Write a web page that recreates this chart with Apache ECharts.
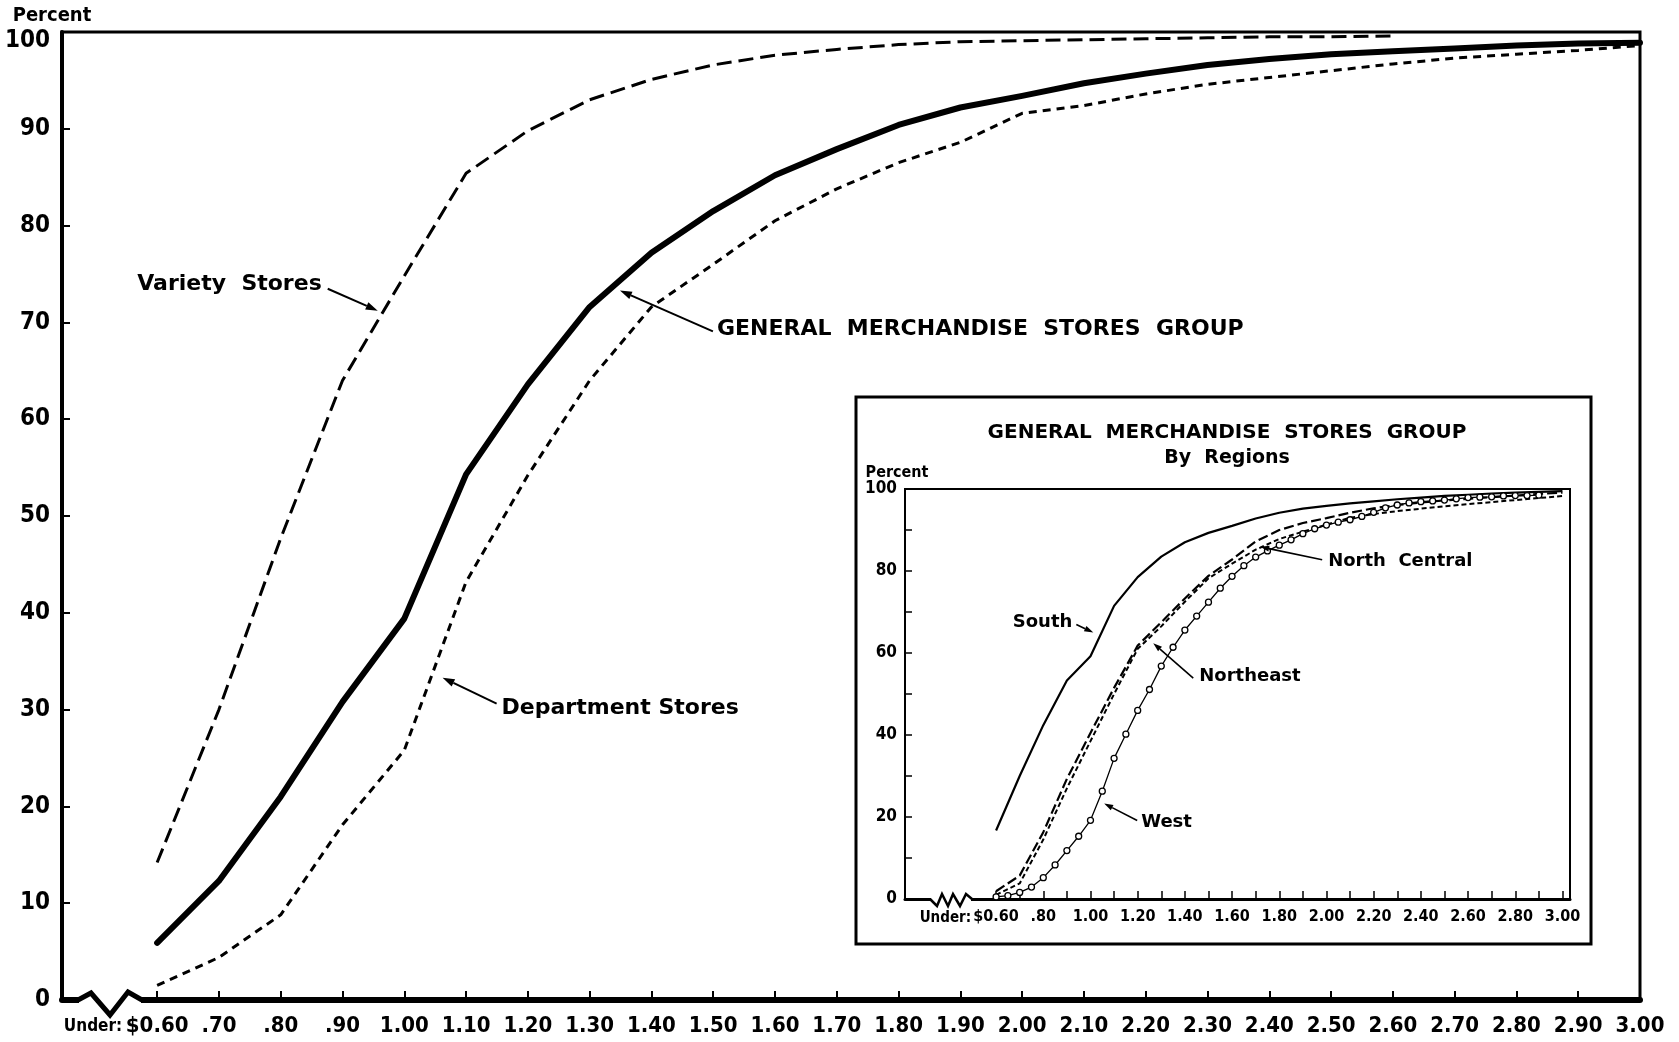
<!DOCTYPE html>
<html>
<head>
<meta charset="utf-8">
<script src="https://cdn.jsdelivr.net/npm/echarts@6.0.0/dist/echarts.min.js"></script>
<style>
  html, body { margin: 0; padding: 0; background: #fff; }
  #chart { width: 1679px; height: 1042px; }
</style>
</head>
<body>
<div id="chart"></div>
<script>
// price classes (dollars), cumulative percent of stores paying under each rate
const prices = [0.60, 0.70, 0.80, 0.90, 1.00, 1.10, 1.20, 1.30, 1.40, 1.50, 1.60, 1.70, 1.80,
                1.90, 2.00, 2.10, 2.20, 2.30, 2.40, 2.50, 2.60, 2.70, 2.80, 2.90, 3.00];

// main chart -- variety stores stop at 2.60
const varietyStores = [14.2, 30.0, 47.7, 64.0, 74.8, 85.4, 89.8, 93.0, 95.1, 96.6, 97.6, 98.2, 98.7,
                       99.0, 99.1, 99.2, 99.3, 99.4, 99.5, 99.5, 99.6];
const generalMerchandise = [5.9, 12.3, 21.0, 30.8, 39.4, 54.3, 63.6, 71.6, 77.2, 81.5, 85.2, 87.9, 90.4,
                            92.2, 93.4, 94.7, 95.7, 96.6, 97.2, 97.7, 98.0, 98.3, 98.6, 98.8, 98.9];
const departmentStores = [1.5, 4.4, 8.8, 18.1, 25.8, 43.2, 54.2, 64.0, 71.6, 76.0, 80.5, 83.8, 86.5,
                          88.6, 91.6, 92.4, 93.6, 94.6, 95.3, 96.0, 96.7, 97.3, 97.7, 98.1, 98.6];

// inset: general merchandise group by regions
const south = [16.7, 30.0, 42.4, 53.3, 59.2, 71.5, 78.5, 83.5, 87.0, 89.3, 91.0, 92.8, 94.2,
               95.2, 95.9, 96.5, 97.0, 97.5, 97.9, 98.3, 98.6, 98.9, 99.1, 99.3, 99.5];
const northCentral = [1.9, 5.7, 16.3, 29.3, 40.5, 51.5, 61.8, 67.5, 73.3, 78.8, 82.8, 87.2, 90.0,
                      91.7, 92.9, 94.2, 95.3, 96.1, 96.7, 97.2, 97.6, 98.0, 98.4, 98.8, 99.1];
const northeast = [1.0, 3.8, 14.5, 27.0, 38.5, 50.0, 61.0, 66.5, 72.5, 78.2, 81.8, 85.2, 87.8,
                   89.6, 91.3, 93.0, 93.9, 94.6, 95.2, 95.8, 96.3, 96.8, 97.3, 97.8, 98.3];
const westPrices = [0.60, 0.65, 0.70, 0.75, 0.80, 0.85, 0.90, 0.95, 1.00, 1.05, 1.10, 1.15, 1.20, 1.25,
                    1.30, 1.35, 1.40, 1.45, 1.50, 1.55, 1.60, 1.65, 1.70, 1.75, 1.80, 1.85, 1.90, 1.95,
                    2.00, 2.05, 2.10, 2.15, 2.20, 2.25, 2.30, 2.35, 2.40, 2.45, 2.50, 2.55, 2.60, 2.65,
                    2.70, 2.75, 2.80, 2.85, 2.90];
const west = [0.5, 0.8, 1.6, 2.9, 5.2, 8.3, 11.8, 15.3, 19.2, 26.3, 34.3, 40.2, 46.0, 51.1,
              56.8, 61.4, 65.6, 69.0, 72.4, 75.8, 78.7, 81.3, 83.4, 84.9, 86.3, 87.6, 89.1, 90.3,
              91.2, 91.9, 92.5, 93.3, 94.3, 95.4, 96.1, 96.6, 96.9, 97.1, 97.3, 97.6, 97.9, 98.0,
              98.1, 98.3, 98.4, 98.4, 98.5];

const insetLabelPrices = [0.60, 0.80, 1.00, 1.20, 1.40, 1.60, 1.80, 2.00, 2.20, 2.40, 2.60, 2.80, 3.00];

const COND = "'DejaVu Sans Condensed', 'Liberation Sans Narrow', sans-serif";
const BOLD = "'DejaVu Sans', sans-serif";

function pairs(xs, ys) {
    return ys.map(function (v, i) { return [xs[i], v]; });
}

function priceLabel(v) {
    if (Math.abs(v - 0.6) < 1e-6) return '$0.60';
    let s = v.toFixed(2);
    return v < 1 ? s.slice(1) : s;
}

let chart = echarts.init(document.getElementById('chart'));

let option = {
    animation: false,
    backgroundColor: '#fff',
    grid: [
        { left: 62, right: 39, top: 32, bottom: 42, show: true, borderColor: '#000', borderWidth: 3 },
        { left: 905, right: 109, top: 489, bottom: 143, show: true, borderColor: '#000', borderWidth: 2 }
    ],
    xAxis: [{
        type: 'value', gridIndex: 0, min: 0.446, max: 3.0,
        axisLine: { lineStyle: { color: '#000', width: 6 } },
        axisTick: { customValues: prices, inside: true, length: 9, lineStyle: { color: '#000', width: 2 } },
        axisLabel: {
            customValues: prices, formatter: priceLabel, margin: 15, color: '#000',
            showMinLabel: true, showMaxLabel: true, hideOverlap: false,
            fontFamily: COND, fontWeight: 'bold', fontSize: 22
        },
        splitLine: { show: false }
    }, {
        type: 'value', gridIndex: 1, min: 0.214, max: 3.032,
        axisLine: { lineStyle: { color: '#000', width: 3 } },
        axisTick: { customValues: prices, inside: true, length: 8, lineStyle: { color: '#000', width: 1.5 } },
        axisLabel: {
            customValues: insetLabelPrices, formatter: priceLabel, margin: 10, color: '#000',
            showMinLabel: true, showMaxLabel: true, hideOverlap: false,
            fontFamily: COND, fontWeight: 'bold', fontSize: 16
        },
        splitLine: { show: false }
    }],
    yAxis: [{
        type: 'value', gridIndex: 0, min: 0, max: 100, interval: 10,
        name: 'Percent', nameLocation: 'end', nameGap: 6,
        nameTextStyle: { color: '#000', fontFamily: COND, fontWeight: 'bold', fontSize: 20, align: 'center', padding: [0, 20, 0, 0] },
        axisLine: { show: true, lineStyle: { color: '#000', width: 4 } },
        axisTick: { show: true, inside: true, length: 8, lineStyle: { color: '#000', width: 2 } },
        axisLabel: {
            color: '#000', fontFamily: COND, fontWeight: 'bold', fontSize: 24, margin: 12,
            formatter: function (v) { return v === 100 ? '{t|100}' : String(v); },
            rich: { t: { color: '#000', fontFamily: COND, fontWeight: 'bold', fontSize: 24, padding: [18, 0, 0, 0] } }
        },
        splitLine: { show: false }
    }, {
        type: 'value', gridIndex: 1, min: 0, max: 100, interval: 10,
        name: 'Percent', nameLocation: 'end', nameGap: 7,
        nameTextStyle: { color: '#000', fontFamily: COND, fontWeight: 'bold', fontSize: 16, align: 'center', padding: [0, 16, 0, 0] },
        axisLine: { show: true, lineStyle: { color: '#000', width: 2 } },
        axisTick: { show: true, inside: true, length: 7, lineStyle: { color: '#000', width: 1.5 } },
        axisLabel: {
            color: '#000', fontFamily: COND, fontWeight: 'bold', fontSize: 17, margin: 8,
            formatter: function (v) { return v % 20 === 0 ? String(v) : ''; }
        },
        splitLine: { show: false }
    }],
    series: [
        { name: 'Variety Stores', type: 'line', xAxisIndex: 0, yAxisIndex: 0, data: pairs(prices, varietyStores),
          symbol: 'none', lineStyle: { color: '#000', width: 3, type: [15, 7] } },
        { name: 'General Merchandise Stores Group', type: 'line', xAxisIndex: 0, yAxisIndex: 0, data: pairs(prices, generalMerchandise),
          symbol: 'none', lineStyle: { color: '#000', width: 6, cap: 'round', join: 'round' } },
        { name: 'Department Stores', type: 'line', xAxisIndex: 0, yAxisIndex: 0, data: pairs(prices, departmentStores),
          symbol: 'none', lineStyle: { color: '#000', width: 3, type: [8, 6] } },

        { name: 'South', type: 'line', xAxisIndex: 1, yAxisIndex: 1, data: pairs(prices, south),
          symbol: 'none', lineStyle: { color: '#000', width: 2.2 } },
        { name: 'North Central', type: 'line', xAxisIndex: 1, yAxisIndex: 1, data: pairs(prices, northCentral),
          symbol: 'none', lineStyle: { color: '#000', width: 2.2, type: [10, 4] } },
        { name: 'Northeast', type: 'line', xAxisIndex: 1, yAxisIndex: 1, data: pairs(prices, northeast),
          symbol: 'none', lineStyle: { color: '#000', width: 2, type: [5, 3] } },
        { name: 'West', type: 'line', xAxisIndex: 1, yAxisIndex: 1, data: pairs(westPrices, west),
          symbol: 'circle', symbolSize: 6, showSymbol: true, showAllSymbol: true,
          itemStyle: { color: '#fff', borderColor: '#000', borderWidth: 1.3 },
          lineStyle: { color: '#000', width: 1.3 } }
    ]
};
chart.setOption(option);

// annotation layout: arrow tip in data units, tail offset and label offset in pixels
const mainNotes = [
    { grid: 0, text: 'Variety  Stores', tip: [0.957, 71.2], tail: [-50, -22], dx: -6, dy: -5, align: 'right', size: 22, head: 12 },
    { grid: 0, text: 'GENERAL  MERCHANDISE  STORES  GROUP', tip: [1.349, 73.3], tail: [93, 41], dx: 4, dy: -2, align: 'left', size: 22, head: 12 },
    { grid: 0, text: 'Department Stores', tip: [1.062, 33.3], tail: [54, 26], dx: 5, dy: 5, align: 'left', size: 22, head: 12 },
    { grid: 1, text: 'South', tip: [1.012, 65.0], tail: [-17, -8], dx: -4, dy: -2, align: 'right', size: 18, head: 9 },
    { grid: 1, text: 'Northeast', tip: [1.266, 62.4], tail: [40, 35], dx: 6, dy: -2, align: 'left', size: 18, head: 9 },
    { grid: 1, text: 'North  Central', tip: [1.719, 85.9], tail: [62, 13], dx: 6, dy: 2, align: 'left', size: 18, head: 9 },
    { grid: 1, text: 'West', tip: [1.058, 23.3], tail: [33, 17], dx: 4, dy: 2, align: 'left', size: 18, head: 9 }
];

function arrow(tail, tip, head, width) {
    let vx = tip[0] - tail[0], vy = tip[1] - tail[1];
    let len = Math.sqrt(vx * vx + vy * vy);
    let ux = vx / len, uy = vy / len;
    let bx = tip[0] - ux * head, by = tip[1] - uy * head;
    let hw = head * 0.33;
    return [
        { type: 'line', z: 100, shape: { x1: tail[0], y1: tail[1], x2: bx, y2: by },
          style: { stroke: '#000', lineWidth: width } },
        { type: 'polygon', z: 100, shape: { points: [tip, [bx - uy * hw, by + ux * hw], [bx + uy * hw, by - ux * hw]] },
          style: { fill: '#000' } }
    ];
}

let graphics = [];

// inset frame and heading
graphics.push({ type: 'rect', z: 100, shape: { x: 856, y: 397, width: 735, height: 547 },
                style: { fill: null, stroke: '#000', lineWidth: 3 } });
graphics.push({ type: 'text', z: 100, x: 1227, y: 433,
                style: { text: 'GENERAL  MERCHANDISE  STORES  GROUP', fill: '#000', fontFamily: BOLD, fontWeight: 'bold',
                         fontSize: 20, align: 'center', verticalAlign: 'middle' } });
graphics.push({ type: 'text', z: 100, x: 1227, y: 458,
                style: { text: 'By  Regions', fill: '#000', fontFamily: BOLD, fontWeight: 'bold',
                         fontSize: 19, align: 'center', verticalAlign: 'middle' } });

// "Under:" prefix ahead of the first price label on each axis
let u0 = chart.convertToPixel({ gridIndex: 0 }, [0.6, 0]);
graphics.push({ type: 'text', z: 100, x: u0[0] - 35, y: u0[1] + 27,
                style: { text: 'Under:', fill: '#000', fontFamily: COND, fontWeight: 'bold', fontSize: 17,
                         align: 'right', verticalAlign: 'middle' } });
let u1 = chart.convertToPixel({ gridIndex: 1 }, [0.6, 0]);
graphics.push({ type: 'text', z: 100, x: u1[0] - 25, y: u1[1] + 19,
                style: { text: 'Under:', fill: '#000', fontFamily: COND, fontWeight: 'bold', fontSize: 15,
                         align: 'right', verticalAlign: 'middle' } });

// axis break marks
let o0 = chart.convertToPixel({ gridIndex: 0 }, [0.446, 0]);
graphics.push({ type: 'rect', z: 100, shape: { x: o0[0] + 17, y: o0[1] - 5, width: 62, height: 10 }, style: { fill: '#fff' } });
graphics.push({ type: 'polyline', z: 101, shape: { points: [
    [o0[0] + 16, o0[1]], [o0[0] + 29, o0[1] - 7], [o0[0] + 48, o0[1] + 15], [o0[0] + 66, o0[1] - 8], [o0[0] + 80, o0[1]]
] }, style: { stroke: '#000', lineWidth: 5, fill: null } });

let o1 = chart.convertToPixel({ gridIndex: 1 }, [0.214, 0]);
graphics.push({ type: 'rect', z: 100, shape: { x: o1[0] + 26, y: o1[1] - 3, width: 40, height: 6 }, style: { fill: '#fff' } });
graphics.push({ type: 'polyline', z: 101, shape: { points: [
    [o1[0] + 25, o1[1]], [o1[0] + 32, o1[1] + 7], [o1[0] + 37, o1[1] - 5], [o1[0] + 43, o1[1] + 7],
    [o1[0] + 48, o1[1] - 5], [o1[0] + 55, o1[1] + 7], [o1[0] + 61, o1[1] - 5], [o1[0] + 67, o1[1]]
] }, style: { stroke: '#000', lineWidth: 2.5, fill: null } });

// labels with arrows
mainNotes.forEach(function (n) {
    let tip = chart.convertToPixel({ gridIndex: n.grid }, n.tip);
    let tail = [tip[0] + n.tail[0], tip[1] + n.tail[1]];
    graphics = graphics.concat(arrow(tail, tip, n.head, n.grid === 0 ? 2 : 1.6));
    graphics.push({ type: 'text', z: 100, x: tail[0] + n.dx, y: tail[1] + n.dy,
                    style: { text: n.text, fill: '#000', fontFamily: BOLD, fontWeight: 'bold', fontSize: n.size,
                             align: n.align, verticalAlign: 'middle' } });
});

chart.setOption({ graphic: graphics });
</script>
</body>
</html>
